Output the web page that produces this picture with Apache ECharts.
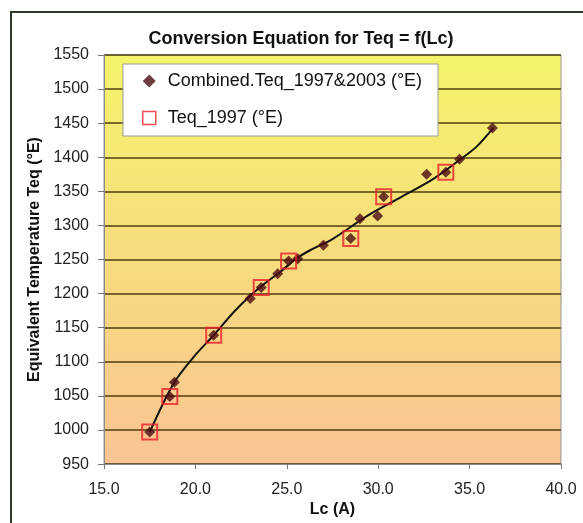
<!DOCTYPE html>
<html>
<head>
<meta charset="utf-8">
<script src="https://cdn.jsdelivr.net/npm/echarts@6/dist/echarts.min.js"></script>
<style>
  html, body { margin: 0; padding: 0; background: #ffffff; }
  #chart { width: 583px; height: 523px; }
</style>
</head>
<body>
<div id="chart"></div>
<script>
// Lc (A) vs equivalent temperature Teq (°E)
const combinedLc  = [17.5, 18.6, 18.85, 21.0, 23.0, 23.6, 24.5, 25.1, 25.6, 27.0, 28.5, 29.0, 29.97, 30.3, 32.65, 33.7, 34.45, 36.25];
const combinedTeq = [997, 1049, 1070, 1139, 1193, 1209, 1229, 1248, 1251, 1271, 1281, 1310, 1314, 1342, 1375, 1378, 1397, 1443];

const teq1997Lc  = [17.5, 18.6, 21.0, 23.6, 25.1, 28.5, 30.3, 33.7];
const teq1997Teq = [997, 1049, 1139, 1209, 1248, 1281, 1342, 1378];

// fitted conversion curve
const fitLc  = [17.5, 18.8, 19.9, 21.0, 22.1, 23.0, 23.9, 24.6, 25.5, 26.3, 27.5, 29.4, 31.2, 33.0, 34.5, 35.4, 36.3];
const fitTeq = [997, 1068, 1107, 1139, 1173, 1197, 1217, 1231, 1251, 1264, 1280, 1314, 1341, 1368, 1397, 1416, 1443];

const xTicks = { min: 15, max: 40, step: 5 };
const yTicks = { min: 950, max: 1550, step: 50 };

const zip = (a, b) => a.map((v, i) => [v, b[i]]);
const FONT = '"Liberation Sans", Arial, sans-serif';
const nameCombined = 'Combined.Teq_1997&2003 (°E)';
const name1997 = 'Teq_1997 (°E)';

const chart = echarts.init(document.getElementById('chart'), null, { renderer: 'canvas' });
chart.setOption({
  animation: false,
  backgroundColor: '#ffffff',
  textStyle: { fontFamily: FONT },
  title: {
    text: 'Conversion Equation for Teq = f(Lc)',
    left: 296, top: 25, textAlign: 'center',
    textStyle: { fontFamily: FONT, fontSize: 18, fontWeight: 'bold', color: '#111' }
  },
  graphic: [
    { type: 'rect', z: -1, shape: { x: 11, y: 12, width: 620, height: 600 },
      style: { fill: 'none', stroke: '#2a3a2a', lineWidth: 2 } },
    { type: 'rect', z: 3, shape: { x: 123, y: 64, width: 315, height: 72 },
      style: { fill: '#ffffff', stroke: '#9a9a9a', lineWidth: 1 } }
  ],
  legend: {
    orient: 'vertical',
    left: 142, top: 72,
    padding: 0,
    z: 5,
    itemWidth: 13, itemHeight: 13,
    itemGap: 19,
    textStyle: { fontFamily: FONT, fontSize: 18, color: '#111', padding: [0, 0, 0, 7] },
    data: [
      { name: nameCombined, icon: 'diamond', itemStyle: { color: '#4a0a10' } },
      { name: name1997, icon: 'rect', itemStyle: { color: 'transparent', borderColor: '#e8202a', borderWidth: 1.5 } }
    ]
  },
  grid: {
    left: 104, right: 22, top: 55, bottom: 57,
    show: true,
    borderColor: '#999999', borderWidth: 1,
    backgroundColor: new echarts.graphic.LinearGradient(0, 0, 0, 1, [
      { offset: 0, color: '#f4f46c' },
      { offset: 0.45, color: '#f7de7c' },
      { offset: 1, color: '#f9c493' }
    ])
  },
  xAxis: {
    type: 'value',
    min: xTicks.min, max: xTicks.max, interval: xTicks.step,
    name: 'Lc (A)', nameLocation: 'middle', nameGap: 32,
    nameTextStyle: { fontFamily: FONT, fontSize: 16, fontWeight: 'bold', color: '#111' },
    axisLine: { show: true, lineStyle: { color: '#8a8a8a', width: 1 } },
    axisTick: { show: true, length: 5, lineStyle: { color: '#777' } },
    axisLabel: { margin: 17, fontFamily: FONT, fontSize: 16, color: '#222',
      formatter: v => v.toFixed(1) },
    splitLine: { show: false }
  },
  yAxis: {
    type: 'value',
    min: yTicks.min, max: yTicks.max, interval: yTicks.step,
    name: 'Equivalent Temperature Teq (°E)', nameLocation: 'middle', nameGap: 56,
    nameTextStyle: { fontFamily: FONT, fontSize: 16, fontWeight: 'bold', color: '#111' },
    axisLine: { show: true, lineStyle: { color: '#8a8a8a', width: 1 } },
    axisTick: { show: true, length: 6, lineStyle: { color: '#777' } },
    axisLabel: { margin: 15, fontFamily: FONT, fontSize: 16, color: '#222',
      formatter: v => String(v) },
    splitLine: { show: true, lineStyle: { color: 'rgba(70,50,5,0.7)', width: 2 } }
  },
  series: [
    {
      name: 'fit', type: 'line', data: zip(fitLc, fitTeq),
      smooth: 0.3, showSymbol: false, symbol: 'none',
      lineStyle: { color: '#111', width: 2 }, z: 3, silent: true
    },
    {
      name: nameCombined, type: 'scatter', data: zip(combinedLc, combinedTeq),
      symbol: 'diamond', symbolSize: 11,
      itemStyle: { color: '#4a0a10' }, z: 4
    },
    {
      name: name1997, type: 'scatter', data: zip(teq1997Lc, teq1997Teq),
      symbol: 'rect', symbolSize: 15,
      itemStyle: { color: 'transparent', borderColor: '#e8202a', borderWidth: 2 }, z: 5
    }
  ]
});
</script>
</body>
</html>
